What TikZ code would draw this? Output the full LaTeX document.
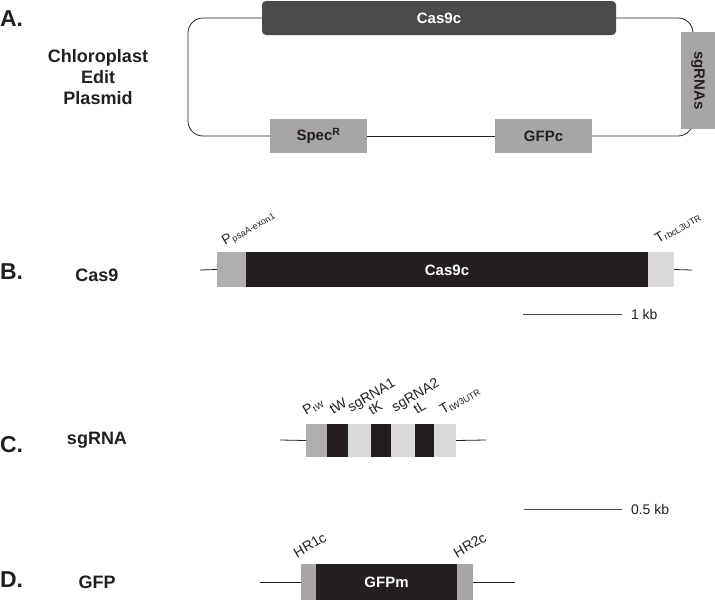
\documentclass[tikz,border=0pt]{standalone}
\usepackage{fontspec}
\setmainfont{Liberation Sans}
\definecolor{txt}{HTML}{231F20}
\definecolor{darkbox}{HTML}{4B4B4D}
\definecolor{midgray}{HTML}{A8A6A5}
\definecolor{promgray}{HTML}{ADAFB1}
\definecolor{lightgray}{HTML}{D9DADB}
\definecolor{blk}{HTML}{231F20}
\newcommand{\lsub}[1]{{\fontsize{9}{9}\selectfont\raisebox{-2pt}{#1}}}
\begin{document}
\begin{tikzpicture}[x=1pt,y=-1pt,
  every node/.style={inner sep=0pt,outer sep=0pt,text=txt},
  gbox/.style={rectangle,anchor=north west},
  panel/.style={font=\fontsize{23}{23}\selectfont\bfseries,anchor=west},
  cname/.style={font=\fontsize{18}{21}\selectfont\bfseries,align=center},
  boxtxt/.style={font=\fontsize{15}{15}\selectfont\bfseries},
  lab/.style={rotate=30,anchor=base west,font=\fontsize{14}{14}\selectfont},
  wire/.style={draw=txt,line width=0.8pt},
  scalebar/.style={draw=txt!80,line width=0.8pt},
  bartxt/.style={font=\fontsize{14}{14}\selectfont,anchor=west}]
\useasboundingbox (0,0) rectangle (715,600);

% ---------- A ----------
\node[panel] (pa) at (0,19) {A.};
\node[cname] (plasmid) at (98,77) {Chloroplast\\Edit\\Plasmid};
\node[gbox,fill=darkbox,rounded corners=4pt,minimum width=354pt,minimum height=34pt] (cas) at (262,1) {};
\node[boxtxt,text=white] at (cas.center) {Cas9c};
\node[gbox,fill=midgray,minimum width=97pt,minimum height=34pt] (spec) at (270,119) {};
\node[boxtxt] at (spec.center) {Spec\textsuperscript{R}};
\node[gbox,fill=midgray,minimum width=97pt,minimum height=34pt] (gfpc) at (495,119) {};
\node[boxtxt] at (gfpc.center) {GFPc};
\draw[wire,rounded corners=15pt] (cas.west) -| (188,136) -- (spec.west);
\draw[wire] (spec.east) -- (gfpc.west);
\draw[wire,rounded corners=15pt] (gfpc.east) -| (693,18) -- (cas.east);
\node[gbox,fill=midgray,minimum width=34pt,minimum height=97pt] (sgr) at (681,32) {};
\node[boxtxt,rotate=-90] at (sgr.center) {sgRNAs};

% ---------- B ----------
\node[panel] (pb) at (0,272) {B.};
\node[cname] (cas9lab) at (97,275) {Cas9};
\coordinate (b0) at (200,270);
\coordinate (b1) at (692,270);
\node[gbox,fill=promgray,minimum width=29pt,minimum height=35pt] (bp) at (217,252) {};
\node[gbox,fill=blk,minimum width=402pt,minimum height=35pt] (bc) at (246,252) {};
\node[gbox,fill=lightgray,minimum width=26pt,minimum height=35pt] (bt) at (648,252) {};
\node[boxtxt,text=white] at (447,270) {Cas9c};
\draw[wire] (b0) -- (bp.west);
\draw[wire] (bt.east) -- (b1);
\node[lab] (lp) at (225,245) {P\lsub{psaA-exon1}};
\node[lab] (lt) at (658,243) {T\lsub{rbcL3UTR}};
\coordinate (s1a) at (523,314);
\coordinate (s1b) at (622,314);
\draw[scalebar] (s1a) -- (s1b);
\node[bartxt] (s1t) at (631,314) {1 kb};

% ---------- C ----------
\node[panel] (pc) at (0,445) {C.};
\node[cname] (sglab) at (97,440) {sgRNA};
\coordinate (c0) at (280,440);
\coordinate (c1) at (486,440);
\node[gbox,fill=promgray,minimum width=21pt,minimum height=33pt] (cp) at (306,424) {};
\node[gbox,fill=blk,minimum width=21pt,minimum height=33pt] (ctw) at (327,424) {};
\node[gbox,fill=lightgray,minimum width=23pt,minimum height=33pt] (cs1) at (348,424) {};
\node[gbox,fill=blk,minimum width=20pt,minimum height=33pt] (ctk) at (371,424) {};
\node[gbox,fill=lightgray,minimum width=24pt,minimum height=33pt] (cs2) at (391,424) {};
\node[gbox,fill=blk,minimum width=19pt,minimum height=33pt] (ctl) at (415,424) {};
\node[gbox,fill=lightgray,minimum width=22pt,minimum height=33pt] (ct) at (434,424) {};
\draw[wire] (c0) -- (cp.west);
\draw[wire] (ct.east) -- (c1);
\node[lab] (l1) at (306,415) {P\lsub{tW}};
\node[lab] (l2) at (333,414) {tW};
\node[lab] (l3) at (351,412) {sgRNA1};
\node[lab] (l4) at (372,415) {tK};
\node[lab] (l5) at (395,412) {sgRNA2};
\node[lab] (l6) at (417,414) {tL};
\node[lab] (l7) at (443,414) {T\lsub{tW3UTR}};
\coordinate (s2a) at (524,509);
\coordinate (s2b) at (622,509);
\draw[scalebar] (s2a) -- (s2b);
\node[bartxt] (s2t) at (631,509) {0.5 kb};

% ---------- D ----------
\node[panel] (pd) at (0,580) {D.};
\node[cname] (gfplab) at (97,582) {GFP};
\coordinate (d0) at (260,582);
\coordinate (d1) at (515,582);
\node[gbox,fill=midgray,minimum width=15pt,minimum height=36pt] (dh1) at (301,564) {};
\node[gbox,fill=blk,minimum width=141pt,minimum height=36pt] (dg) at (316,564) {};
\node[gbox,fill=midgray,minimum width=16pt,minimum height=36pt] (dh2) at (457,564) {};
\node[boxtxt,text=white] at (dg.center) {GFPm};
\draw[wire] (d0) -- (dh1.west);
\draw[wire] (dh2.east) -- (d1);
\node[lab] (h1) at (297,558) {HR1c};
\node[lab] (h2) at (457,558) {HR2c};
\end{tikzpicture}
\end{document}
